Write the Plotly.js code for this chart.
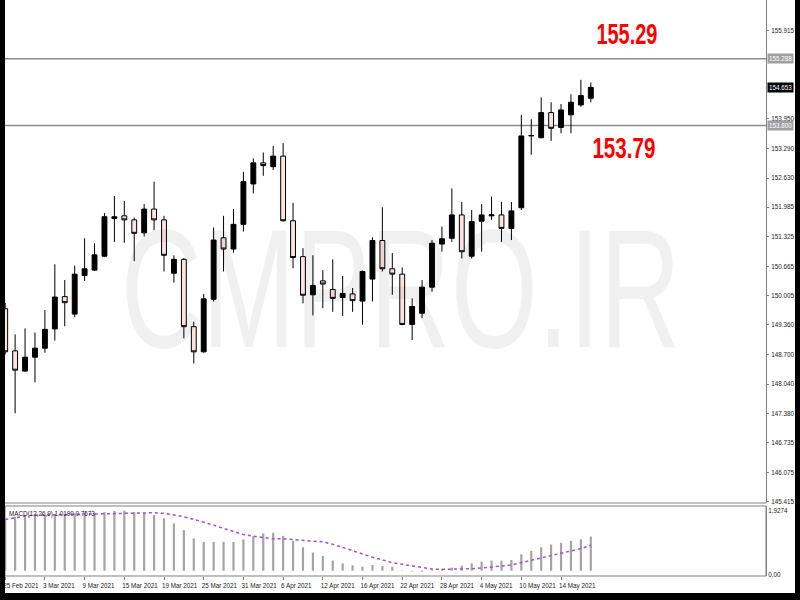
<!DOCTYPE html>
<html><head><meta charset="utf-8">
<script src="https://cdn.plot.ly/plotly-3.0.1.min.js"></script>
<style>
html,body{margin:0;padding:0;background:#000;width:800px;height:600px;overflow:hidden;}
#chart{position:absolute;left:5px;top:0;width:790px;height:593px;background:#fff;}
</style></head><body><div id="chart"></div>
<script>
const dates = [
 '2021-02-25','2021-02-26',
 '2021-03-01','2021-03-02','2021-03-03','2021-03-04','2021-03-05',
 '2021-03-08','2021-03-09','2021-03-10','2021-03-11','2021-03-12',
 '2021-03-15','2021-03-16','2021-03-17','2021-03-18','2021-03-19',
 '2021-03-22','2021-03-23','2021-03-24','2021-03-25','2021-03-26',
 '2021-03-29','2021-03-30','2021-03-31','2021-04-01','2021-04-02',
 '2021-04-05','2021-04-06','2021-04-07','2021-04-08','2021-04-09',
 '2021-04-12','2021-04-13','2021-04-14','2021-04-15','2021-04-16',
 '2021-04-19','2021-04-20','2021-04-21','2021-04-22','2021-04-23',
 '2021-04-26','2021-04-27','2021-04-28','2021-04-29','2021-04-30',
 '2021-05-03','2021-05-04','2021-05-05','2021-05-06','2021-05-07',
 '2021-05-10','2021-05-11','2021-05-12','2021-05-13','2021-05-14',
 '2021-05-17','2021-05-18','2021-05-19'
];
const openP = [149.72,148.78,148.33,148.64,148.84,149.27,149.99,149.60,150.46,150.58,
 150.89,151.73,151.79,151.70,151.41,151.94,151.70,150.51,150.82,149.32,
 148.76,149.93,151.30,151.05,151.60,152.50,152.97,152.885,153.12,151.68,
 150.88,150.03,150.34,150.15,149.97,150.05,149.89,150.38,151.24,150.61,
 150.49,149.37,149.62,150.20,151.16,151.29,151.81,150.89,151.67,151.79,
 151.81,151.51,151.97,153.57,153.53,154.09,153.76,154.04,154.26,154.41];
const highP = [149.85,149.15,149.28,149.19,149.69,150.71,150.36,150.68,151.29,151.18,
 151.85,152.23,152.12,151.75,152.05,152.55,151.79,150.91,150.85,149.43,
 150.05,151.53,151.79,151.94,152.77,153.07,153.20,153.35,153.41,152.08,
 151.07,150.91,150.58,150.82,150.45,150.18,150.57,151.31,151.98,150.96,
 150.64,149.95,150.36,151.25,151.55,152.40,152.10,151.92,152.05,152.22,
 152.10,152.10,154.04,153.94,154.43,154.32,154.28,154.50,154.82,154.76];
const lowP = [148.70,147.39,148.32,148.08,148.74,149.01,149.33,149.53,150.34,150.56,
 150.87,151.21,151.19,150.78,151.33,151.47,150.55,150.30,149.06,148.50,
 148.74,149.88,150.55,150.97,151.44,152.29,152.68,152.81,151.66,150.62,
 149.84,149.57,149.73,149.65,149.56,149.65,149.36,149.88,150.55,150.03,
 149.35,149.02,149.51,150.10,150.99,151.21,150.84,150.84,150.99,151.70,
 151.21,151.25,151.92,153.15,153.52,153.46,153.63,153.63,154.22,154.32];
const closeP = [148.76,148.35,148.64,148.84,149.26,149.98,149.855,150.49,150.61,150.92,
 151.77,151.77,151.70,151.40,151.94,151.70,150.91,150.82,149.32,148.76,
 149.94,151.25,151.05,151.60,152.55,152.97,152.91,153.12,151.68,150.86,
 150.02,150.24,150.27,149.95,150.06,149.90,150.55,151.24,150.61,150.49,
 149.37,149.77,150.20,151.18,151.28,151.81,150.99,151.66,151.81,151.81,
 151.51,151.90,153.57,153.58,154.09,153.74,154.15,154.32,154.47,154.653];
const macdHist = [1.55,1.61,1.63,1.65,1.66,1.67,1.69,1.71,1.71,1.73,
 1.75,1.78,1.79,1.75,1.73,1.66,1.56,1.41,1.21,0.96,
 0.86,0.86,0.86,0.86,0.93,1.03,1.11,1.13,1.04,0.89,
 0.70,0.54,0.44,0.30,0.22,0.16,0.12,0.17,0.14,0.12,
 0.01,-0.02,-0.03,0.02,0.05,0.09,0.15,0.22,0.27,0.30,
 0.30,0.32,0.49,0.59,0.70,0.78,0.83,0.89,0.94,1.019];
const macdSignal = [1.53,1.59,1.63,1.66,1.67,1.68,1.69,1.69,1.69,1.69,
 1.70,1.71,1.71,1.72,1.73,1.73,1.71,1.66,1.61,1.53,
 1.45,1.36,1.26,1.16,1.08,1.03,0.98,0.95,0.95,0.93,
 0.91,0.89,0.86,0.79,0.70,0.60,0.50,0.40,0.32,0.24,
 0.19,0.14,0.09,0.05,0.04,0.04,0.05,0.06,0.08,0.10,
 0.14,0.17,0.24,0.30,0.37,0.44,0.52,0.57,0.66,0.7573];
const tickDates = ['2021-02-25','2021-03-03','2021-03-09','2021-03-15','2021-03-19','2021-03-25',
 '2021-03-31','2021-04-06','2021-04-12','2021-04-16','2021-04-22','2021-04-28','2021-05-04',
 '2021-05-10','2021-05-14'];
const tickLabels = ['25 Feb 2021','3 Mar 2021','9 Mar 2021','15 Mar 2021','19 Mar 2021','25 Mar 2021',
 '31 Mar 2021','6 Apr 2021','12 Apr 2021','16 Apr 2021','22 Apr 2021','28 Apr 2021','4 May 2021',
 '10 May 2021','14 May 2021'];
const priceTicks = [155.915,153.950,153.290,152.630,151.985,151.325,150.665,150.005,
 149.360,148.700,148.040,147.380,146.735,146.075,145.415];
const levels = [155.288, 153.800];
const levelTags = ['155.288','153.800'];
const levelNotes = ['155.29','153.79'];
const lastPrice = 154.653;
const macdTicks = [1.9274, 0];
const macdTickText = ['1.9274','0.00'];
const macdTitle = 'MACD(12,26,9) 1.0190 0.7573';
const watermark = 'CMPRO.IR';

const FONT = 'Liberation Sans, Arial, sans-serif';
const data = [
 {type:'candlestick', x:dates, open:openP, high:highP, low:lowP, close:closeP,
  xaxis:'x', yaxis:'y', whiskerwidth:0, hoverinfo:'skip', showlegend:false,
  increasing:{line:{color:'#000',width:1}, fillcolor:'#000'},
  decreasing:{line:{color:'#000',width:1}, fillcolor:'#fde3e0'}},
 {type:'bar', x:dates, y:macdHist, xaxis:'x', yaxis:'y2', width:0.22,
  marker:{color:'#a4a4a4', line:{width:0}}, hoverinfo:'skip', showlegend:false},
 {type:'scatter', mode:'lines', x:dates, y:macdSignal, xaxis:'x', yaxis:'y2',
  line:{color:'#a24fd6', dash:'dot', width:1.5}, hoverinfo:'skip', showlegend:false}
];

const shapes = levels.map(v => ({type:'line', xref:'paper', x0:0, x1:1, yref:'y', y0:v, y1:v,
  line:{color:'#8c8c8c', width:1.5}, layer:'below'}));
shapes.push({type:'line', xref:'paper', x0:0, x1:1, yref:'y domain', y0:0, y1:0, line:{color:'#808080', width:1}});
shapes.push({type:'rect', xref:'paper', x0:0, x1:1, yref:'y2 domain', y0:0, y1:1, line:{color:'#808080', width:1}, fillcolor:'rgba(0,0,0,0)'});

const annotations = [
 {text:watermark, xref:'paper', yref:'paper', x:0.52, y:0.498, xanchor:'center', yanchor:'middle', showarrow:false,
  font:{family:FONT, size:168, color:'rgba(0,0,0,0.06)'}},
 {text:'<b>' + levelNotes[0] + '</b>', xref:'paper', yref:'paper', x:0.817, y:0.941, xanchor:'center', yanchor:'middle', showarrow:false,
  font:{family:FONT, size:30, color:'#ff0000'}},
 {text:'<b>' + levelNotes[1] + '</b>', xref:'paper', yref:'paper', x:0.814, y:0.744, xanchor:'center', yanchor:'middle', showarrow:false,
  font:{family:FONT, size:30, color:'#ff0000'}},
 {text:macdTitle, xref:'paper', yref:'y2 domain', x:0.003, y:0.886, xanchor:'left', yanchor:'middle',
  showarrow:false, font:{family:FONT, size:6.3, color:'#222'}}
];
levels.forEach((v,i) => annotations.push({text:levelTags[i], xref:'paper', x:1, xanchor:'left', xshift:1,
  yref:'y', y:v, yanchor:'middle', showarrow:false, bgcolor:'#a0a0a0', borderpad:1,
  font:{family:FONT, size:6.3, color:'#fff'}}));
annotations.push({text:lastPrice.toFixed(3), xref:'paper', x:1, xanchor:'left', xshift:1,
  yref:'y', y:lastPrice, yanchor:'middle', showarrow:false, bgcolor:'#000', borderpad:1,
  font:{family:FONT, size:6.3, color:'#fff'}});

const layout = {
 width:790, height:593, margin:{l:0, r:29, t:0, b:17},
 paper_bgcolor:'#fff', plot_bgcolor:'#fff', showlegend:false, hovermode:false,
 font:{family:FONT, size:6.3, color:'#222'},
 xaxis:{type:'category', range:[-0.02, 76.65], anchor:'y2', tickvals:tickDates, ticktext:tickLabels,
  ticks:'outside', ticklen:3, tickcolor:'#808080', tickfont:{size:6.3, color:'#222'},
  showgrid:false, zeroline:false, showline:false, rangeslider:{visible:false}, fixedrange:true},
 yaxis:{domain:[0.12674, 1], range:[145.391, 156.599], side:'right', anchor:'x',
  tickvals:priceTicks, ticktext:priceTicks.map(v => v.toFixed(3)), ticks:'outside', ticklen:2,
  tickcolor:'#808080', showline:true, linecolor:'#808080', linewidth:1, showgrid:false, zeroline:false,
  tickfont:{size:6.3, color:'#222'}, ticklabelstandoff:1, fixedrange:true},
 yaxis2:{domain:[0, 0.12153], range:[-0.158, 1.93], side:'right', anchor:'x',
  tickvals:macdTicks, ticktext:macdTickText, ticks:'', showline:true, linecolor:'#808080',
  showgrid:false, zeroline:false, ticklabelposition:'outside bottom',
  tickfont:{size:6.3, color:'#222'}, fixedrange:true},
 shapes:shapes, annotations:annotations
};

Plotly.newPlot('chart', data, layout, {staticPlot:true, displayModeBar:false}).then(gd => {
  // horizontally condense the big texts around their own centre
  const fit = {'0':560, '1':61, '2':63};
  gd.querySelectorAll('.annotation').forEach(g => {
    const i = g.getAttribute('data-index');
    if (fit[i]) {
      const t = g.querySelector('text');
      if (t) {
        const w = t.getBBox().width;
        if (w > 0) {
          t.style.transformBox = 'fill-box';
          t.style.transformOrigin = 'center';
          t.style.transform = 'scaleX(' + (fit[i] / w) + ')';
        }
      }
    }
  });
  gd.querySelectorAll('.xtick text').forEach(t => { t.setAttribute('text-anchor','start'); t.setAttribute('dx','-2'); });
});
</script></body></html>
